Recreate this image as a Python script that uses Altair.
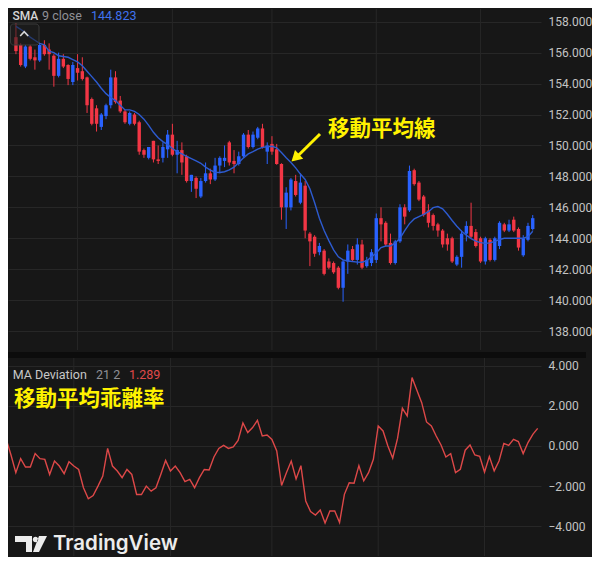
import altair as alt
import pandas as pd

# ---------------- data ----------------
opens = [157.0, 156.5, 155.1, 156.4, 155.7, 155.5, 156.5, 156.2, 155.8, 154.5,
         155.6, 155.2, 154.1, 155.0, 154.8, 154.4, 153.0, 152.4, 151.2, 151.9,
         152.6, 154.4, 152.9, 152.2, 151.4, 152.0, 151.5, 149.7, 149.2, 150.3,
         149.1, 149.2, 149.75, 150.7, 149.4, 149.7, 149.3, 147.7, 147.9, 146.7,
         147.7, 148.2, 147.8, 148.7, 149.0, 150.2, 149.0, 148.8, 149.3, 150.7,
         149.9, 150.5, 151.1, 149.6, 150.1, 149.75, 148.8, 146.0, 146.0, 147.7,
         146.3, 147.4, 144.3, 144.1, 143.1, 143.2, 142.5, 142.4, 142.1, 140.8,
         142.5, 143.3, 142.6, 143.6, 142.2, 142.4, 142.6, 145.3, 145.0, 143.7,
         142.4, 143.8, 146.0, 145.8, 148.4, 147.6, 146.7, 145.8, 145.5, 144.9,
         144.5, 144.0, 144.0, 142.3, 142.8, 144.3, 144.8, 144.4, 144.0, 142.5,
         143.9, 142.6, 143.5, 144.9, 144.5, 145.2, 144.6, 142.9, 143.9, 144.6]
highs = [157.9, 156.6, 156.5, 156.5, 156.2, 156.55, 156.8, 156.6, 155.9, 156.0,
         155.9, 155.25, 155.4, 155.9, 155.7, 154.45, 153.1, 152.6, 152.1, 152.7,
         154.9, 154.8, 153.2, 152.3, 152.2, 152.1, 151.6, 149.8, 149.9, 150.3,
         150.0, 150.2, 151.0, 151.4, 150.3, 150.2, 149.4, 148.1, 148.0, 147.9,
         148.9, 148.5, 149.2, 149.3, 150.0, 150.3, 149.7, 149.6, 150.8, 151.0,
         150.9, 151.2, 151.4, 150.2, 150.6, 150.1, 148.85, 147.3, 147.9, 148.1,
         148.2, 147.7, 144.4, 144.2, 143.7, 143.3, 142.7, 142.5, 142.2, 142.6,
         143.6, 143.5, 144.0, 143.9, 142.8, 143.3, 145.6, 146.0, 145.1, 144.3,
         143.9, 146.2, 146.2, 148.7, 148.5, 147.7, 146.8, 146.2, 145.6, 145.0,
         144.6, 144.3, 144.1, 142.9, 144.5, 145.1, 146.3, 144.6, 144.1, 144.1,
         144.0, 144.1, 145.1, 145.0, 145.2, 145.4, 144.7, 144.2, 145.0, 145.5]
lows = [155.9, 155.1, 155.0, 155.5, 154.9, 155.4, 155.8, 154.9, 153.8, 154.4,
        155.0, 153.9, 153.9, 154.2, 154.2, 152.1, 151.3, 150.9, 151.0, 151.7,
        152.4, 152.7, 152.1, 151.4, 151.3, 151.3, 149.4, 149.2, 149.1, 148.9,
        148.8, 148.9, 149.2, 149.3, 148.2, 148.1, 147.6, 147.0, 146.6, 146.6,
        147.6, 147.5, 147.7, 148.2, 148.6, 148.7, 148.2, 148.7, 149.2, 149.8,
        149.8, 150.4, 149.8, 148.8, 149.4, 148.75, 145.2, 144.6, 145.8, 146.7,
        146.2, 144.0, 142.2, 142.8, 142.9, 141.6, 142.0, 141.7, 140.7, 139.9,
        141.7, 142.5, 142.3, 142.0, 142.1, 142.2, 142.4, 143.8, 143.5, 142.3,
        142.3, 143.7, 144.9, 145.7, 147.4, 146.4, 145.4, 144.7, 144.5, 144.1,
        143.4, 143.2, 142.4, 142.2, 142.1, 143.8, 144.0, 143.4, 142.4, 142.3,
        142.5, 142.5, 143.3, 144.4, 144.4, 144.4, 143.2, 142.8, 143.8, 144.5]
closes = [156.1, 155.2, 156.4, 155.6, 155.5, 156.5, 155.9, 155.9, 154.5, 155.6,
          155.1, 154.3, 155.2, 154.7, 154.3, 152.6, 151.4, 151.4, 152.0, 152.6,
          154.4, 152.8, 152.2, 151.5, 152.1, 151.4, 149.6, 149.4, 149.9, 149.1,
          149.0, 149.9, 150.7, 149.4, 149.7, 148.9, 147.7, 148.1, 147.2, 147.7,
          148.2, 147.8, 148.7, 149.2, 149.2, 148.9, 148.8, 149.3, 150.7, 149.9,
          150.7, 151.1, 149.9, 150.0, 149.6, 148.8, 146.0, 146.95, 147.8, 146.8,
          147.6, 144.5, 143.8, 143.0, 143.5, 141.7, 142.1, 141.8, 140.8, 142.5,
          143.2, 142.6, 143.6, 142.1, 142.6, 143.1, 145.3, 144.9, 143.6, 142.4,
          143.8, 146.0, 145.4, 148.35, 147.5, 146.5, 145.5, 145.0, 144.8, 144.5,
          143.6, 143.6, 142.5, 142.8, 144.3, 144.8, 144.1, 143.5, 142.5, 144.0,
          142.6, 144.0, 145.0, 144.5, 144.9, 144.5, 143.4, 144.0, 144.8, 145.3]
sma9 = [157.7, 157.5, 157.3, 157.0, 156.8, 156.6, 156.5, 156.1, 156.0, 155.8,
        155.75, 155.7, 155.55, 155.4, 155.15, 154.8, 154.45, 154.1, 153.7, 153.35,
        153.1, 152.9, 152.6, 152.3, 152.3, 152.2, 152.0, 151.7, 151.3, 150.85,
        150.5, 150.25, 150.05, 149.8, 149.6, 149.45, 149.3, 149.15, 149.0, 148.85,
        148.6, 148.4, 148.27, 148.25, 148.3, 148.42, 148.6, 148.9, 149.2, 149.45,
        149.6, 149.77, 149.88, 149.92, 149.95, 149.85, 149.55, 149.2, 148.9, 148.55,
        148.15, 147.8, 147.2, 146.3, 145.3, 144.5, 143.85, 143.25, 142.8, 142.6,
        142.53, 142.5, 142.46, 142.45, 142.55, 142.8, 143.05, 143.4, 143.5, 143.5,
        143.7, 144.0, 144.5, 144.95, 145.25, 145.4, 145.55, 145.72, 145.98, 146.05,
        145.9, 145.55, 145.15, 144.78, 144.45, 144.2, 143.98, 143.82, 143.72, 143.67,
        143.7, 143.8, 143.92, 144.0, 144.0, 144.0, 144.0, 144.0, 144.1, 144.45]
# MA deviation (%), first value is the bar just left of the visible range
dev_start = -1
deviation = [0.35,
             -0.45, -1.33, -0.63, -1.05, -1.05, -0.38, -0.63, -0.67, -1.42, -0.75,
             -1.0, -1.38, -0.78, -1.0, -1.17, -2.08, -2.63, -2.47, -2.0, -1.5,
             -0.12, -1.0, -1.25, -1.58, -1.17, -1.42, -2.42, -2.42, -2.0, -2.25,
             -2.08, -1.42, -0.72, -1.25, -1.0, -1.33, -1.78, -1.67, -2.08, -1.58,
             -1.17, -1.2, -0.55, -0.12, 0.03, -0.12, -0.05, 0.28, 1.15, 0.67,
             0.92, 1.28, 0.5, 0.55, 0.33, -0.25, -1.97, -1.33, -0.75, -1.64,
             -0.98, -2.74, -3.27, -3.44, -3.19, -3.84, -3.24, -3.24, -3.82, -2.41,
             -1.83, -1.86, -0.98, -1.74, -1.33, -0.66, 1.0, 0.75, 0.0, -0.61,
             0.38, 1.88, 1.5, 3.41, 2.78, 2.16, 1.2, 1.0, 0.5, 0.05,
             -0.55, -0.38, -1.33, -1.16, -0.21, 0.05, -0.45, -0.51, -1.3, -0.53,
             -1.24, -0.75, 0.13, 0.03, 0.33, 0.22, -0.38, 0.17, 0.58, 0.88]
price_ticks = [138, 140, 142, 144, 146, 148, 150, 152, 154, 156, 158]
dev_ticks = [-4, -2, 0, 2, 4]
month_breaks = [13, 33, 54, 76, 98]

# ---------------- styling ----------------
BG = "#171717"
GRID = "#272727"
UP = "#2962ff"
DOWN = "#f23645"
SMA_C = "#2d5bd0"
DEV_C = "#dd4848"
YEL = "#fff200"
LBL = "#c4c4c4"
CJK = "Noto Sans CJK JP"

n = len(closes)
candles = pd.DataFrame({"i": list(range(n)), "open": opens, "high": highs,
                        "low": lows, "close": closes, "sma": sma9})
candles["dir"] = ["up" if c >= o else "down" for o, c in zip(opens, closes)]
dev_df = pd.DataFrame({"i": list(range(dev_start, dev_start + len(deviation))),
                       "dev": deviation})
grid_df = pd.DataFrame({"i": month_breaks})
one = pd.DataFrame({"k": [0]})

xscale = alt.Scale(domain=[-0.62, 109.69], nice=False, zero=False)
pscale = alt.Scale(domain=[136.778, 158.821], nice=False, zero=False)
dscale = alt.Scale(domain=[-5.486, 4.688], nice=False, zero=False)
PAX = alt.Axis(orient="right", values=price_ticks, format=".3f", grid=True, title=None)
DAX = alt.Axis(orient="right", values=dev_ticks, format=".3f", grid=True, title=None)
X = alt.X("i:Q", scale=xscale, axis=None)
col = alt.Color("dir:N", scale=alt.Scale(domain=["up", "down"], range=[UP, DOWN]), legend=None)


def txt(s, x, y, color, size=12.5, weight=400, font="Roboto"):
    return alt.Chart(one).mark_text(text=s, align="left", baseline="alphabetic",
                                    color=color, fontSize=size, fontWeight=weight,
                                    font=font).encode(x=alt.value(x), y=alt.value(y))


# ---------------- top panel ----------------
vgrid_top = alt.Chart(grid_df).mark_rule(color=GRID, strokeWidth=1).encode(x=X)
wicks = alt.Chart(candles).mark_rule(strokeWidth=1).encode(
    x=X, y=alt.Y("low:Q", scale=pscale, axis=PAX), y2="high:Q", color=col)
bodies = alt.Chart(candles).mark_bar(size=3.4).encode(
    x=X, y=alt.Y("open:Q", scale=pscale, axis=PAX), y2="close:Q", color=col)
sma_line = alt.Chart(candles).mark_line(color=SMA_C, strokeWidth=1.4, clip=True).encode(
    x=X, y=alt.Y("sma:Q", scale=pscale, axis=PAX))

box = alt.Chart(one).mark_rect(cornerRadius=3, fill="#1f1f1f", fillOpacity=0.55,
                               stroke="#3a3a3a", strokeWidth=1).encode(
    x=alt.value(2.5), x2=alt.value(31), y=alt.value(15), y2=alt.value(36))
chevron = alt.Chart(one).mark_point(shape="M-1,0.55L0,-0.55L1,0.55", filled=False,
                                    size=64, strokeWidth=1.6, color="#d8d8d8",
                                    opacity=1).encode(x=alt.value(16.2), y=alt.value(24.8))
t_sma = txt("SMA", 4.5, 10.5, "#d6d6d6", size=12, weight=500)
t_sma2 = txt("9 close", 34, 10.5, "#8f9096")
t_sma3 = txt("144.823", 83, 10.5, "#3f72ee")
anno = txt("移動平均線", 320, 126.5, YEL, size=21.5, weight="bold", font=CJK)
arrow = alt.Chart(one).mark_rule(color=YEL, strokeWidth=3).encode(
    x=alt.value(312), x2=alt.value(289.5), y=alt.value(125), y2=alt.value(147.3))
head = alt.Chart(one).mark_point(shape="triangle-up", size=144, angle=227, filled=True,
                                 color=YEL, opacity=1).encode(
    x=alt.value(287.3), y=alt.value(148.95))

top = alt.layer(vgrid_top, wicks, bodies, sma_line, box, chevron,
                t_sma, t_sma2, t_sma3, anno, arrow, head).properties(width=533, height=341)

# ---------------- lower panel ----------------
vgrid_bot = alt.Chart(grid_df).mark_rule(color=GRID, strokeWidth=1).encode(x=X)
dev_line = alt.Chart(dev_df).mark_line(color=DEV_C, strokeWidth=1.4, clip=True).encode(
    x=X, y=alt.Y("dev:Q", scale=dscale, axis=DAX))
sep = alt.Chart(one).mark_rect(color="#0c0c0c").encode(
    x=alt.value(0), x2=alt.value(578), y=alt.value(0), y2=alt.value(6))
t_ma = txt("MA Deviation", 4.7, 27, "#c8c8c8")
t_ma2 = txt("21 2", 88, 27, "#8f9096")
t_ma3 = txt("1.289", 121, 27, "#e04a4a")
anno2 = txt("移動平均乖離率", 6, 54, YEL, size=21.5, weight="bold", font=CJK)
logo_path = ("M-1,-0.5L0.0625,-0.5L0.0625,0.5L-0.3125,0.5L-0.3125,-0.125L-1,-0.125Z"
             "M0.5,-0.5L1,-0.5L0.5,0.5L0.125,0.5Z"
             "M0.11,-0.28A0.17,0.17,0,1,0,0.45,-0.28A0.17,0.17,0,1,0,0.11,-0.28Z")
logo = alt.Chart(one).mark_point(shape=logo_path, filled=True, size=1024, strokeWidth=0,
                                 color="#ececec", opacity=1).encode(
    x=alt.value(23), y=alt.value(192))
t_tv = txt("TradingView", 45, 197.5, "#ececec", size=20.5, weight=600, font="Inter")

bottom = alt.layer(vgrid_bot, dev_line, sep, t_ma, t_ma2, t_ma3, anno2, logo, t_tv
                   ).properties(width=533, height=204)

chart = alt.vconcat(top, bottom, spacing=0).properties(
    padding=0, background=BG
).configure_view(stroke=None).configure_axis(
    domain=False, ticks=False, labelColor=LBL, labelFont="Roboto", labelFontSize=12,
    labelPadding=7, gridColor=GRID, gridWidth=1
)

chart.save("out.html", embed_options={"renderer": "svg", "actions": False})
